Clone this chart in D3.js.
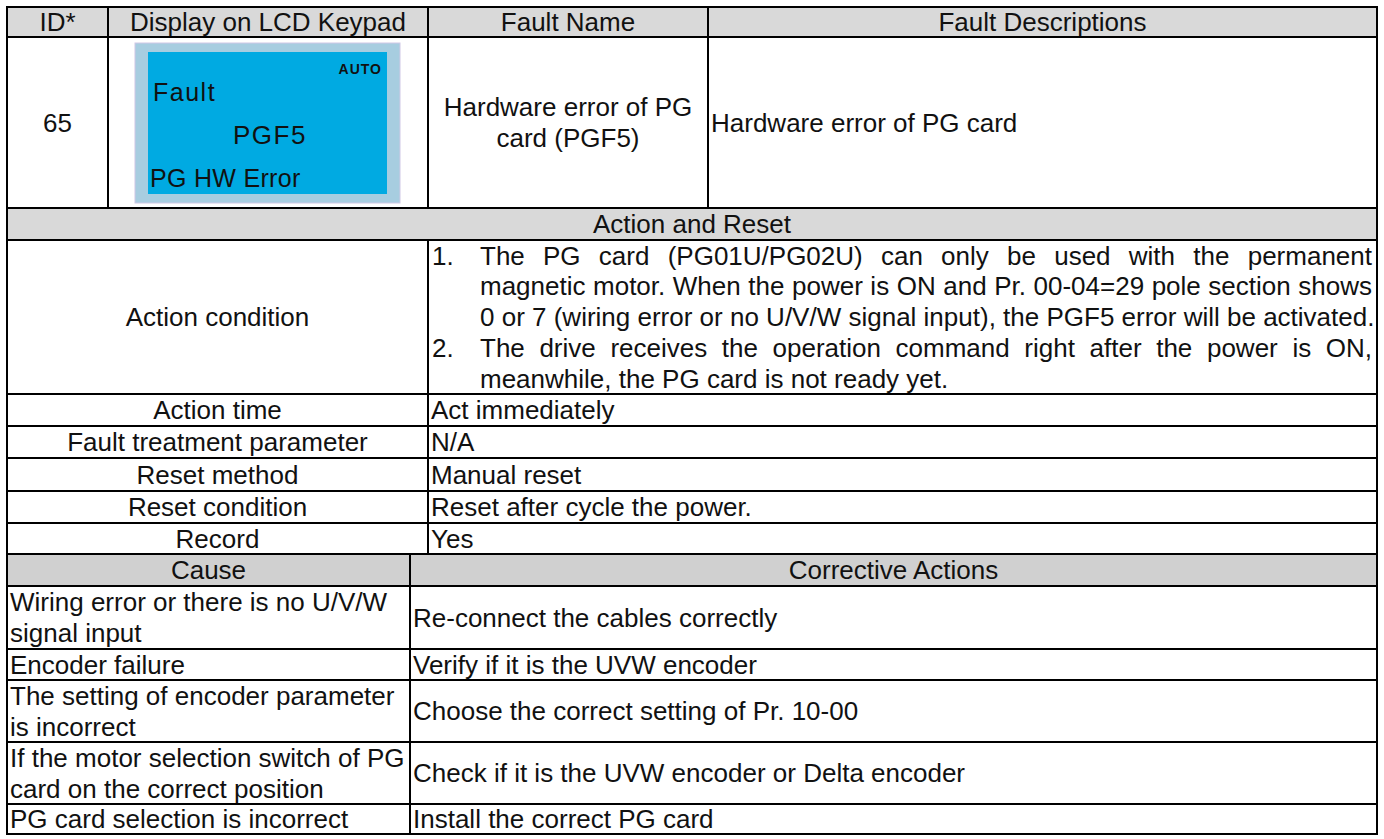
<!DOCTYPE html>
<html>
<head>
<meta charset="utf-8">
<script src="https://cdn.jsdelivr.net/npm/d3@7"></script>
<style>
  html, body { margin: 0; padding: 0; background: #ffffff; }
  svg { display: block; }
  text { font-family: "Liberation Sans", Arial, sans-serif; fill: #111; }
</style>
</head>
<body>
<svg id="chart" width="1384" height="839"></svg>
<script>
// ---------------- data ----------------
const headerCols = ["ID*", "Display on LCD Keypad", "Fault Name", "Fault Descriptions"];
const faultId = "65";
const lcdStatus = "AUTO";
const lcdLines = ["Fault", "PGF5", "PG HW Error"];
const faultName = ["Hardware error of PG", "card (PGF5)"];
const faultDesc = "Hardware error of PG card";
const sectionTitle = "Action and Reset";
const actionLabels = ["Action condition", "Action time", "Fault treatment parameter", "Reset method", "Reset condition", "Record"];
const actionValues = [null, "Act immediately", "N/A", "Manual reset", "Reset after cycle the power.", "Yes"];
const conditionItems = [
  { num: "1.", lines: [
    "The PG card (PG01U/PG02U) can only be used with the permanent",
    "magnetic motor. When the power is ON and Pr. 00-04=29 pole section shows",
    "0 or 7 (wiring error or no U/V/W signal input), the PGF5 error will be activated."] },
  { num: "2.", lines: [
    "The drive receives the operation command right after the power is ON,",
    "meanwhile, the PG card is not ready yet."] }
];
const causeHeader = ["Cause", "Corrective Actions"];
const causes = [
  ["Wiring error or there is no U/V/W", "signal input"],
  ["Encoder failure"],
  ["The setting of encoder parameter", "is incorrect"],
  ["If the motor selection switch of PG", "card on the correct position"],
  ["PG card selection is incorrect"]
];
const corrective = [
  "Re-connect the cables correctly",
  "Verify if it is the UVW encoder",
  "Choose the correct setting of Pr. 10-00",
  "Check if it is the UVW encoder or Delta encoder",
  "Install the correct PG card"
];

// ---------------- layout ----------------
const FS = 26;
const svg = d3.select("#chart");
const L = 7, R = 1377;
const rowEdges = [7, 37, 208, 240, 394, 426, 458, 491, 523, 554, 586, 649, 680, 742, 804, 834];
const topCols = [L, 108, 428, 708, R];
const midCol = 428;
const causeCol = 410;
const gray1 = "#d9d9d9", gray2 = "#d0d0d0";

// backgrounds
svg.append("rect").attr("x", L).attr("y", rowEdges[0]).attr("width", R - L).attr("height", rowEdges[1] - rowEdges[0]).attr("fill", gray1);
svg.append("rect").attr("x", L).attr("y", rowEdges[2]).attr("width", R - L).attr("height", rowEdges[3] - rowEdges[2]).attr("fill", gray1);
svg.append("rect").attr("x", L).attr("y", rowEdges[9]).attr("width", R - L).attr("height", rowEdges[10] - rowEdges[9]).attr("fill", gray2);

const base = (y0, y1) => (y0 + y1) / 2 + FS * 0.35;

// header
const hx = d3.scaleBand().domain(headerCols).range([0, 1]);
headerCols.forEach((h, i) => {
  svg.append("text").attr("x", (topCols[i] + topCols[i + 1]) / 2).attr("y", base(rowEdges[0], rowEdges[1]))
    .attr("text-anchor", "middle").attr("font-size", FS).text(h);
});

// row 1
svg.append("text").attr("x", (topCols[0] + topCols[1]) / 2).attr("y", base(rowEdges[1], rowEdges[2]))
  .attr("text-anchor", "middle").attr("font-size", FS).text(faultId);

// LCD
const lcd = svg.append("g");
lcd.append("rect").attr("x", 135).attr("y", 43).attr("width", 265).attr("height", 160)
  .attr("fill", "#a7cde0").attr("stroke", "#cfc8e6").attr("stroke-width", 1);
lcd.append("rect").attr("x", 148).attr("y", 52).attr("width", 239).attr("height", 142).attr("fill", "#00aae2");
lcd.append("text").attr("x", 382).attr("y", 74).attr("text-anchor", "end").attr("font-size", 14)
  .attr("font-weight", "bold").attr("letter-spacing", 1).text(lcdStatus);
lcd.append("text").attr("x", 153).attr("y", 101).attr("font-size", 25).attr("letter-spacing", 1.5).text(lcdLines[0]);
lcd.append("text").attr("x", 233).attr("y", 144).attr("font-size", 26).attr("letter-spacing", 1.5).text(lcdLines[1]);
lcd.append("text").attr("x", 150).attr("y", 187).attr("font-size", 25).attr("letter-spacing", 0.3).text(lcdLines[2]);

// fault name (2 lines, centered)
const fnMid = (rowEdges[1] + rowEdges[2]) / 2;
faultName.forEach((t, i) => {
  svg.append("text").attr("x", (topCols[2] + topCols[3]) / 2)
    .attr("y", fnMid + (i - (faultName.length - 1) / 2) * 31 + FS * 0.35)
    .attr("text-anchor", "middle").attr("font-size", FS).text(t);
});
svg.append("text").attr("x", topCols[3] + 3).attr("y", base(rowEdges[1], rowEdges[2]))
  .attr("font-size", FS).text(faultDesc);

// section title
svg.append("text").attr("x", (L + R) / 2).attr("y", base(rowEdges[2], rowEdges[3]))
  .attr("text-anchor", "middle").attr("font-size", FS).text(sectionTitle);

// action labels + values
actionLabels.forEach((lab, i) => {
  const y0 = rowEdges[3 + i], y1 = rowEdges[4 + i];
  svg.append("text").attr("x", (L + midCol) / 2).attr("y", base(y0, y1))
    .attr("text-anchor", "middle").attr("font-size", FS).text(lab);
  if (actionValues[i]) {
    svg.append("text").attr("x", midCol + 3).attr("y", base(y0, y1)).attr("font-size", FS).text(actionValues[i]);
  }
});

// justified condition list
const numX = 432, textX = 480, textR = 1372;
const lh = (rowEdges[4] - rowEdges[3]) / 5;
let lineIdx = 0;
const measure = svg.append("text").attr("font-size", FS).attr("visibility", "hidden");
function wordWidth(w) { measure.text(w); return measure.node().getComputedTextLength(); }
conditionItems.forEach(item => {
  item.lines.forEach((line, j) => {
    const y = rowEdges[3] + lh * (lineIdx + 0.5) + FS * 0.35;
    if (j === 0) svg.append("text").attr("x", numX).attr("y", y).attr("font-size", FS).text(item.num);
    const last = j === item.lines.length - 1;
    if (last) {
      svg.append("text").attr("x", textX).attr("y", y).attr("font-size", FS).text(line);
    } else {
      const words = line.split(" ");
      const widths = words.map(wordWidth);
      const total = d3.sum(widths);
      const gap = (textR - textX - total) / (words.length - 1);
      let x = textX;
      const t = svg.append("text").attr("y", y).attr("font-size", FS);
      words.forEach((w, k) => {
        t.append("tspan").attr("x", x).text(w);
        x += widths[k] + gap;
      });
    }
    lineIdx++;
  });
});
measure.remove();

// cause header
svg.append("text").attr("x", (L + causeCol) / 2).attr("y", base(rowEdges[9], rowEdges[10]))
  .attr("text-anchor", "middle").attr("font-size", FS).text(causeHeader[0]);
svg.append("text").attr("x", (causeCol + R) / 2).attr("y", base(rowEdges[9], rowEdges[10]))
  .attr("text-anchor", "middle").attr("font-size", FS).text(causeHeader[1]);

// cause rows
causes.forEach((c, i) => {
  const y0 = rowEdges[10 + i], y1 = rowEdges[11 + i];
  const mid = (y0 + y1) / 2;
  c.forEach((t, j) => {
    svg.append("text").attr("x", L + 3).attr("y", mid + (j - (c.length - 1) / 2) * 31 + FS * 0.35)
      .attr("font-size", FS).text(t);
  });
  svg.append("text").attr("x", causeCol + 3).attr("y", mid + FS * 0.35).attr("font-size", FS).text(corrective[i]);
});

// ---------------- grid lines ----------------
const g = svg.append("g").attr("stroke", "#000").attr("stroke-width", 2).attr("fill", "none");
rowEdges.forEach(y => g.append("line").attr("x1", L).attr("x2", R).attr("y1", y).attr("y2", y));
g.append("line").attr("x1", L).attr("x2", L).attr("y1", rowEdges[0] - 1).attr("y2", rowEdges[rowEdges.length - 1] + 1);
g.append("line").attr("x1", R).attr("x2", R).attr("y1", rowEdges[0] - 1).attr("y2", rowEdges[rowEdges.length - 1] + 1);
topCols.slice(1, -1).forEach(x => g.append("line").attr("x1", x).attr("x2", x).attr("y1", rowEdges[0]).attr("y2", rowEdges[2]));
g.append("line").attr("x1", midCol).attr("x2", midCol).attr("y1", rowEdges[3]).attr("y2", rowEdges[9]);
g.append("line").attr("x1", causeCol).attr("x2", causeCol).attr("y1", rowEdges[9]).attr("y2", rowEdges[15]);
</script>
</body>
</html>
